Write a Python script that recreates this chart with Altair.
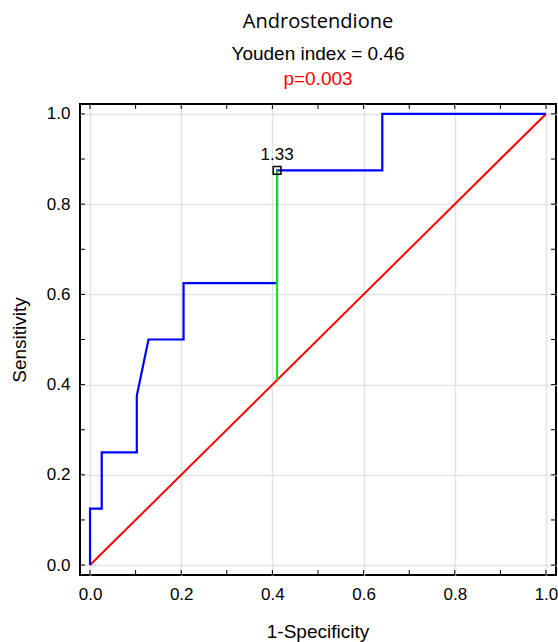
import altair as alt
import pandas as pd

# ROC curve points (1-Specificity, Sensitivity)
roc_x = [0, 0, 1/39, 1/39, 4/39, 4/39, 5/39, 8/39, 8/39, 16/39, 16/39, 25/39, 25/39, 1.0]
roc_y = [0, 0.125, 0.125, 0.25, 0.25, 0.375, 0.5, 0.5, 0.625, 0.625, 0.875, 0.875, 1.0, 1.0]
diag_x = [0.0, 1.0]
diag_y = [0.0, 1.0]
cut_x = 16/39
cut_sens = 0.875
cut_label = "1.33"
tick_vals = [0.0, 0.2, 0.4, 0.6, 0.8, 1.0]
minor_vals = [0.0, 0.1, 0.2, 0.3, 0.4, 0.5, 0.6, 0.7, 0.8, 0.9, 1.0]

W, H = 476, 471
dom = [-0.022, 1.022]

roc = pd.DataFrame({"x": roc_x, "y": roc_y, "o": list(range(len(roc_x)))})
diag = pd.DataFrame({"x": diag_x, "y": diag_y})
youden = pd.DataFrame({"x": [cut_x], "y": [cut_x], "y2": [cut_sens], "lab": [cut_label]})
ticks = pd.DataFrame({"v": minor_vals})

xs = alt.Scale(domain=dom, nice=False, zero=False)
ys = alt.Scale(domain=dom, nice=False, zero=False)

lab_font = "Liberation Sans"

xaxis = alt.Axis(values=tick_vals, format=".1f", grid=True, gridColor="#e3e3e3", gridWidth=1.5,
                 domain=False, ticks=False, labelPadding=11, labelFontSize=17, labelFont=lab_font,
                 labelColor="black", title=None)
yaxis = alt.Axis(values=tick_vals, format=".1f", grid=True, gridColor="#e3e3e3", gridWidth=1.5,
                 domain=False, ticks=False, labelPadding=10, labelFontSize=17, labelFont=lab_font,
                 labelColor="black", title=None)

base_x = alt.X("x:Q", scale=xs, axis=xaxis)
base_y = alt.Y("y:Q", scale=ys, axis=yaxis)

diag_line = alt.Chart(diag).mark_line(color="#ff0000", strokeWidth=2).encode(x=base_x, y=base_y)
roc_line = alt.Chart(roc).mark_line(color="#0000ff", strokeWidth=2.2).encode(
    x=alt.X("x:Q", scale=xs), y=alt.Y("y:Q", scale=ys), order="o:Q")
green = alt.Chart(youden).mark_rule(color="#00ee00", strokeWidth=2).encode(
    x=alt.X("x:Q", scale=xs), y=alt.Y("y:Q", scale=ys), y2="y2:Q")
sq = alt.Chart(youden).mark_point(shape="square", size=60, filled=False, color="black",
                                  strokeWidth=1.5, opacity=1).encode(
    x=alt.X("x:Q", scale=xs), y=alt.Y("y2:Q", scale=ys))
sq_lab = alt.Chart(youden).mark_text(dy=-15, fontSize=17, font=lab_font, color="black").encode(
    x=alt.X("x:Q", scale=xs), y=alt.Y("y2:Q", scale=ys), text="lab:N")

tk = 5
t_bottom = alt.Chart(ticks).mark_rule(color="black", strokeWidth=1).encode(
    x=alt.X("v:Q", scale=xs), y=alt.value(H), y2=alt.value(H - tk))
t_top = alt.Chart(ticks).mark_rule(color="black", strokeWidth=1).encode(
    x=alt.X("v:Q", scale=xs), y=alt.value(0), y2=alt.value(tk))
t_left = alt.Chart(ticks).mark_rule(color="black", strokeWidth=1).encode(
    y=alt.Y("v:Q", scale=ys), x=alt.value(0), x2=alt.value(tk))
t_right = alt.Chart(ticks).mark_rule(color="black", strokeWidth=1).encode(
    y=alt.Y("v:Q", scale=ys), x=alt.value(W), x2=alt.value(W - tk))

def txt(s, x, y, size, color="black", font=lab_font, angle=0):
    return alt.Chart(pd.DataFrame({"t": [s]})).mark_text(
        fontSize=size, color=color, font=font, angle=angle, baseline="middle", align="center"
    ).encode(x=alt.value(x), y=alt.value(y), text="t:N")

t1 = txt("Androstendione", 238, -82, 20, font="Open Sans")
t2 = txt("Youden index  = 0.46", 238, -50, 19)
t3 = txt("p=0.003", 238, -25, 19, color="#ff0000")
xl = txt("1-Specificity", 238, 528, 19)
yl = txt("Sensitivity", -60, 236, 19, angle=270)

chart = alt.layer(diag_line, roc_line, green, sq, sq_lab, t_bottom, t_top, t_left, t_right,
                  t1, t2, t3, xl, yl).properties(
    width=W, height=H,
    autosize=alt.AutoSizeParams(type="none"),
    padding={"left": 80, "top": 104, "right": 2, "bottom": 67},
    background="white",
).configure_view(stroke="black", strokeWidth=2)

chart.save("out.html", embed_options={"renderer": "svg", "actions": False})
